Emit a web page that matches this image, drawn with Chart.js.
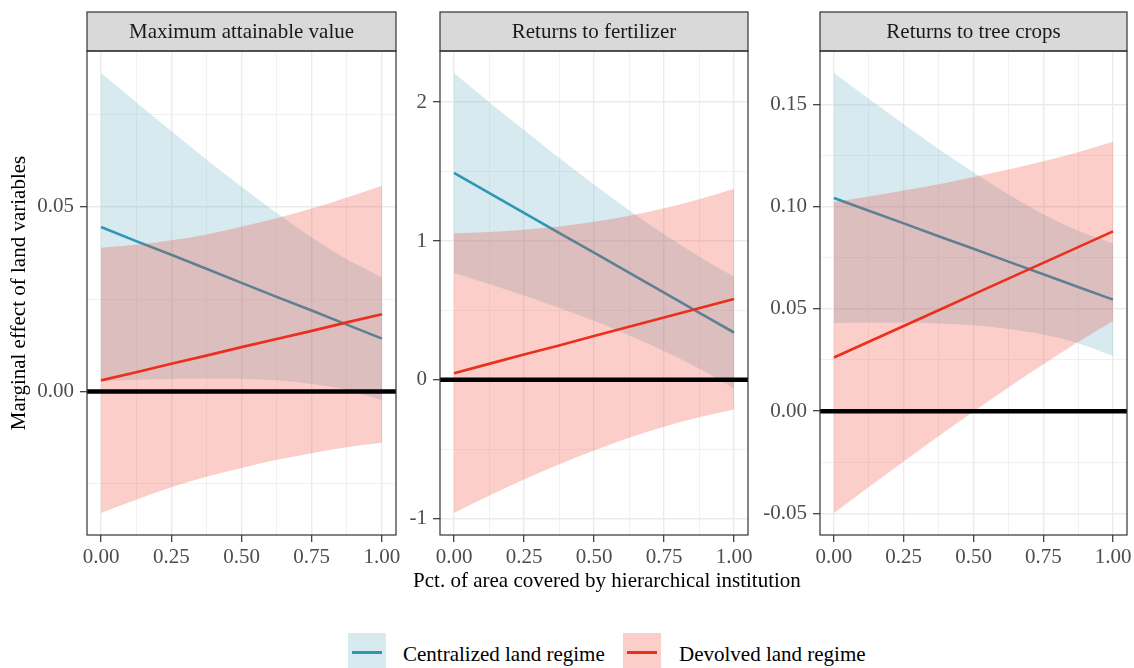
<!DOCTYPE html>
<html lang="en">
<head>
<meta charset="UTF-8">
<title>Marginal effect of land variables</title>
<script src="https://cdn.jsdelivr.net/npm/chart.js@4.4.0/dist/chart.umd.min.js"></script>
<style>
  body { margin: 0; background: #fff; font-family: "Liberation Serif", serif; }
  #wrap { position: relative; width: 1134px; height: 668px; overflow: hidden; }
  #wrap canvas { position: absolute; left: 0; top: 0; }
  .xtitle { position: absolute; left: 0; width: 1214px; top: 567px; text-align: center; font-size: 21px; line-height: 26px; color: #000; }
  .key { position: absolute; width: 38px; height: 38px; top: 633px; }
  .key span { position: absolute; left: 4px; right: 4px; top: 18px; height: 2.5px; }
  .ltext { position: absolute; top: 641px; font-size: 21px; line-height: 26px; color: #000; white-space: nowrap; }
</style>
</head>
<body>
<div id="wrap">
  <canvas id="c1" width="1170" height="572"></canvas>
  <canvas id="c2" width="1170" height="572"></canvas>
  <canvas id="c3" width="1170" height="572"></canvas>
  <div class="xtitle">Pct. of area covered by hierarchical institution</div>
  <div class="key" style="left:348px;background:rgba(91,171,195,0.25)"><span style="background:#2E97B3"></span></div>
  <div class="ltext" style="left:403px">Centralized land regime</div>
  <div class="key" style="left:623px;background:rgba(240,60,44,0.25)"><span style="background:#EC2F1C"></span></div>
  <div class="ltext" style="left:679px">Devolved land regime</div>
</div>
<script>
  const xVals = [0, 0.125, 0.25, 0.375, 0.5, 0.625, 0.75, 0.875, 1];
  const xTickVals = [0, 0.125, 0.25, 0.375, 0.5, 0.625, 0.75, 0.875, 1];
  const xTickLabels = ['0.00', '', '0.25', '', '0.50', '', '0.75', '', '1.00'];
  const panelTitles = ['Maximum attainable value', 'Returns to fertilizer', 'Returns to tree crops'];

  // Maximum attainable value
  const maxCentralFit = [0.0445, 0.0407, 0.0370, 0.0332, 0.0294, 0.0256, 0.0219, 0.0181, 0.0143];
  const maxCentralHi = [0.0862, 0.0783, 0.0705, 0.0628, 0.0554, 0.0483, 0.0417, 0.0358, 0.0309];
  const maxCentralLo = [0.0028, 0.0032, 0.0034, 0.0035, 0.0034, 0.0030, 0.0020, 0.0004, -0.0023];
  const maxDevolvedFit = [0.0030, 0.0052, 0.0075, 0.0097, 0.0120, 0.0142, 0.0164, 0.0187, 0.0209];
  const maxDevolvedHi = [0.0389, 0.0397, 0.0409, 0.0425, 0.0446, 0.0469, 0.0495, 0.0525, 0.0557];
  const maxDevolvedLo = [-0.0329, -0.0293, -0.0259, -0.0231, -0.0207, -0.0185, -0.0167, -0.0151, -0.0139];
  const maxTickVals = [-0.025, 0, 0.025, 0.05, 0.075];
  const maxTickLabels = ['', '0.00', '', '0.05', ''];

  // Returns to fertilizer
  const fertCentralFit = [1.490, 1.346, 1.203, 1.059, 0.916, 0.772, 0.628, 0.485, 0.341];
  const fertCentralHi = [2.210, 2.002, 1.799, 1.599, 1.407, 1.222, 1.049, 0.889, 0.744];
  const fertCentralLo = [0.770, 0.690, 0.607, 0.519, 0.425, 0.322, 0.207, 0.081, -0.062];
  const fertDevolvedFit = [0.048, 0.115, 0.182, 0.248, 0.315, 0.382, 0.449, 0.515, 0.582];
  const fertDevolvedHi = [1.055, 1.065, 1.081, 1.105, 1.138, 1.181, 1.235, 1.300, 1.377];
  const fertDevolvedLo = [-0.959, -0.835, -0.717, -0.609, -0.508, -0.417, -0.337, -0.270, -0.213];
  const fertTickVals = [-1, -0.5, 0, 0.5, 1, 1.5, 2];
  const fertTickLabels = ['-1', '', '0', '', '1', '', '2'];

  // Returns to tree crops
  const treeCentralFit = [0.1042, 0.0980, 0.0918, 0.0855, 0.0794, 0.0731, 0.0669, 0.0607, 0.0545];
  const treeCentralHi = [0.1653, 0.1527, 0.1403, 0.1282, 0.1168, 0.1060, 0.0963, 0.0882, 0.0820];
  const treeCentralLo = [0.0431, 0.0433, 0.0433, 0.0428, 0.0420, 0.0402, 0.0375, 0.0332, 0.0270];
  const treeDevolvedFit = [0.0262, 0.0339, 0.0416, 0.0493, 0.0571, 0.0648, 0.0725, 0.0802, 0.0879];
  const treeDevolvedHi = [0.1022, 0.1049, 0.1078, 0.1109, 0.1144, 0.1181, 0.1221, 0.1266, 0.1317];
  const treeDevolvedLo = [-0.0498, -0.0371, -0.0246, -0.0123, -0.0002, 0.0115, 0.0229, 0.0338, 0.0441];
  const treeTickVals = [-0.05, -0.025, 0, 0.025, 0.05, 0.075, 0.1, 0.125, 0.15];
  const treeTickLabels = ['-0.05', '', '0.00', '', '0.05', '', '0.10', '', '0.15'];

  const FONT = '"Liberation Serif", serif';
  Chart.defaults.font.family = FONT;

  const BLUE = '#2E97B3', RED = '#EC2F1C';
  const BLUE_FILL = 'rgba(91,171,195,0.25)', RED_FILL = 'rgba(240,60,44,0.25)';

  function expand(lo, hi) {
    const pad = (hi - lo) * 0.05;
    return [lo - pad, hi + pad];
  }
  const [xMin, xMax] = expand(Math.min(...xVals), Math.max(...xVals));

  function pts(ys) { return xVals.map((x, i) => ({ x: x, y: ys[i] })); }

  // facet strip + panel border (theme_bw look)
  const stripPlugin = {
    id: 'strip',
    afterDraw(chart, args, opts) {
      const { ctx, chartArea: a } = chart;
      const h = 39;
      ctx.save();
      ctx.fillStyle = '#D9D9D9';
      ctx.fillRect(a.left, a.top - h, a.right - a.left, h);
      ctx.strokeStyle = '#333333';
      ctx.lineWidth = 1.2;
      ctx.strokeRect(a.left, a.top - h, a.right - a.left, h);
      ctx.strokeRect(a.left, a.top, a.right - a.left, a.bottom - a.top);
      ctx.fillStyle = '#1A1A1A';
      ctx.font = '21px ' + FONT;
      ctx.textAlign = 'center';
      ctx.textBaseline = 'middle';
      ctx.fillText(opts.text, (a.left + a.right) / 2, a.top - h / 2 + 1);
      ctx.restore();
    }
  };

  function makePanel(id, title, cen, dev, tickVals, tickLabels, box, yTitle) {
    const [yMin, yMax] = expand(Math.min(...cen[0], ...dev[0]), Math.max(...cen[2], ...dev[2]));
    const ribbon = { borderWidth: 0, pointRadius: 0, cubicInterpolationMode: 'monotone' };
    const line = { pointRadius: 0, borderWidth: 2.6, fill: false, tension: 0 };
    return new Chart(document.getElementById(id), {
      type: 'line',
      data: {
        datasets: [
          { ...ribbon, data: pts(cen[2]), backgroundColor: BLUE_FILL, fill: '+1', order: 6 },
          { ...ribbon, data: pts(cen[0]), fill: false, order: 6 },
          { ...line, data: pts(cen[1]), borderColor: BLUE, order: 5 },
          { ...ribbon, data: pts(dev[2]), backgroundColor: RED_FILL, fill: '+1', order: 4 },
          { ...ribbon, data: pts(dev[0]), fill: false, order: 4 },
          { ...line, data: pts(dev[1]), borderColor: RED, order: 3 },
          { data: [{ x: xMin, y: 0 }, { x: xMax, y: 0 }], borderColor: '#000', borderWidth: 4.5,
            pointRadius: 0, fill: false, clip: 0, order: 1 }
        ]
      },
      options: {
        responsive: false,
        animation: false,
        events: [],
        layout: { padding: { top: 51, left: box.left, right: box.right, bottom: 0 } },
        plugins: { legend: { display: false }, tooltip: { enabled: false }, strip: { text: title } },
        scales: {
          x: {
            type: 'linear', min: xMin, max: xMax,
            afterBuildTicks: s => { s.ticks = xTickVals.map(v => ({ value: v })); },
            afterFit: s => { s.height = 572 - 535; },
            ticks: {
              autoSkip: false, maxRotation: 0, padding: 3, color: '#4D4D4D',
              font: { size: 21 },
              callback: (v, i) => xTickLabels[i]
            },
            grid: {
              color: '#EBEBEB',
              lineWidth: c => xTickLabels[c.index] ? 1.4 : 0.7,
              tickLength: 7, tickWidth: 1.2,
              tickColor: c => xTickLabels[c.index] ? '#333333' : 'rgba(0,0,0,0)'
            },
            border: { display: false }
          },
          y: {
            type: 'linear', min: yMin, max: yMax,
            afterBuildTicks: s => { s.ticks = tickVals.map(v => ({ value: v })); },
            afterFit: s => { s.width = box.axis; },
            ticks: {
              autoSkip: false, padding: 6, color: '#4D4D4D',
              font: { size: 21 },
              callback: (v, i) => tickLabels[i]
            },
            grid: {
              color: '#EBEBEB',
              lineWidth: c => tickLabels[c.index] ? 1.4 : 0.7,
              tickLength: 7, tickWidth: 1.2,
              tickColor: c => tickLabels[c.index] ? '#333333' : 'rgba(0,0,0,0)'
            },
            border: { display: false },
            title: {
              display: !!yTitle, text: yTitle || '', color: '#000',
              font: { size: 21 }, padding: { top: 7, bottom: 0 }
            }
          }
        }
      },
      plugins: [stripPlugin]
    });
  }

  makePanel('c1', panelTitles[0],
    [maxCentralLo, maxCentralFit, maxCentralHi], [maxDevolvedLo, maxDevolvedFit, maxDevolvedHi],
    maxTickVals, maxTickLabels, { left: 0, axis: 87, right: 1170 - 396 }, 'Marginal effect of land variables');
  makePanel('c2', panelTitles[1],
    [fertCentralLo, fertCentralFit, fertCentralHi], [fertDevolvedLo, fertDevolvedFit, fertDevolvedHi],
    fertTickVals, fertTickLabels, { left: 398, axis: 42, right: 1170 - 748 });
  makePanel('c3', panelTitles[2],
    [treeCentralLo, treeCentralFit, treeCentralHi], [treeDevolvedLo, treeDevolvedFit, treeDevolvedHi],
    treeTickVals, treeTickLabels, { left: 752, axis: 68, right: 1170 - 1127 });
</script>
</body>
</html>
